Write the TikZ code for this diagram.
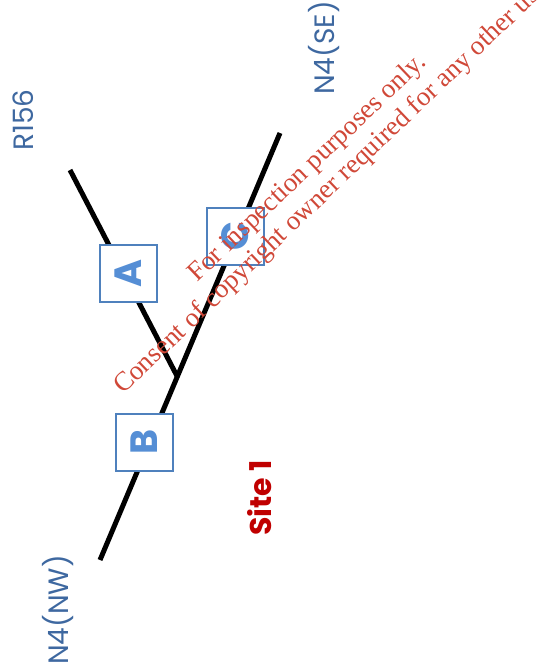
\documentclass[tikz,border=0pt]{standalone}
\usepackage{fontspec}
\setmainfont{Liberation Serif}
\newfontfamily\geo{Poppins}
\definecolor{boxblue}{RGB}{79,129,189}
\definecolor{letterblue}{RGB}{85,142,213}
\definecolor{labelblue}{RGB}{62,104,160}
\definecolor{sitered}{RGB}{192,0,0}
\definecolor{wmred}{RGB}{208,72,56}
\tikzset{
  road/.style={line width=5pt, black},
  sitebox/.style={draw=boxblue, line width=2pt, fill=white, minimum width=54pt, minimum height=57pt, inner sep=0pt},
  boxletter/.style={font=\geo\bfseries\fontsize{38}{38}\selectfont, text=letterblue},
  roadlabel/.style={font=\geo\fontsize{28}{28}\selectfont, text=labelblue, rotate=90, inner sep=0pt},
  wm/.style={font=\fontsize{27}{27}\selectfont, text=wmred, rotate=43.6, anchor=base west, inner sep=0pt}
}
\begin{document}
\begin{tikzpicture}[x=1pt,y=1pt]
\useasboundingbox (0,0) rectangle (547,-670);
\clip (0,0) rectangle (547,-670);
\coordinate (rtop) at (70,-170);
\coordinate (J) at (177,-376);
\coordinate (nw) at (100,-560);
\coordinate (se) at (280,-133);
\draw[road] (rtop) -- (J);
\draw[road] (nw) -- (se);
\node[sitebox] (A) at (128.5,-273.5) {\rotatebox{90}{\begin{tikzpicture}\node[boxletter,inner sep=0pt]{A};\end{tikzpicture}}};
\node[sitebox] (B) at (144,-442) {\rotatebox{90}{\begin{tikzpicture}\node[boxletter,inner sep=0pt]{B};\end{tikzpicture}}};
\node[sitebox] (C) at (235,-236) {\rotatebox{90}{\begin{tikzpicture}\node[boxletter,inner sep=0pt]{C};\end{tikzpicture}}};
\node[roadlabel] (r156) at (23,-120) {R156};
\node[roadlabel] (n4se) at (324,-48) {N4(SE)};
\node[roadlabel] (n4nw) at (58,-610) {N4(NW)};
\node[rotate=90, inner sep=0pt, font=\geo\bfseries\fontsize{30}{30}\selectfont, text=sitered] (site) at (260,-498) {Site 1};
\node[wm] (wm1) at (197,-283) {For inspection purposes only.};
\node[wm] (wm2) at (123,-395) {Consent of copyright owner required for any other use.};
\end{tikzpicture}
\end{document}
